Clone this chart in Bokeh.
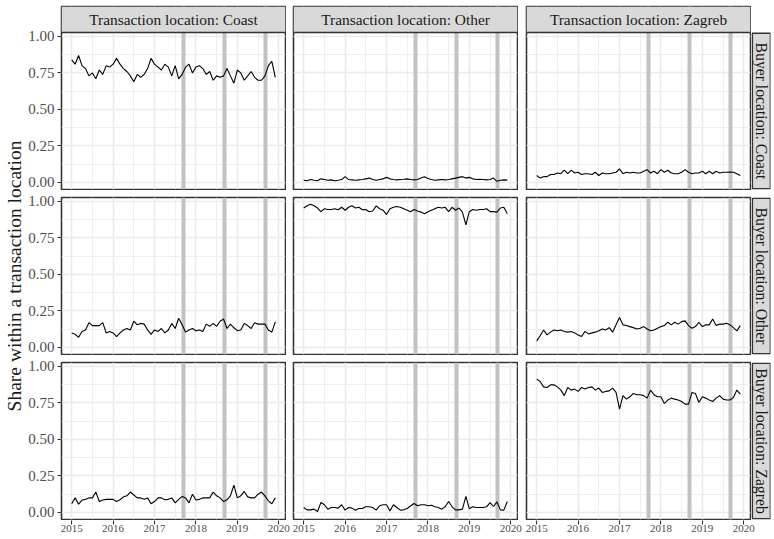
import math
from bokeh.plotting import figure
from bokeh.layouts import row, column
from bokeh.models import FixedTicker, Range1d, PrintfTickFormatter
from bokeh.embed import file_html
from bokeh.resources import INLINE
from bokeh.core.properties import value

FONT = "Liberation Serif"

# ---------------- data ----------------
transaction_locations = ["Coast", "Other", "Zagreb"]
buyer_locations = ["Coast", "Other", "Zagreb"]
months = [2015 + m / 12 for m in range(60)]  # Jan 2015 .. Dec 2019

year_ticks = [2015, 2016, 2017, 2018, 2019, 2020]
year_minor_ticks = [2015.5, 2016.5, 2017.5, 2018.5, 2019.5]
share_ticks = [0.0, 0.25, 0.5, 0.75, 1.0]
share_minor_ticks = [0.125, 0.375, 0.625, 0.875]
band_dates = [2017.71, 2018.69, 2019.69]

# transaction location: Coast
coast_buyers_in_coast = [0.84, 0.81, 0.87, 0.80, 0.78, 0.73, 0.75, 0.71, 0.77, 0.74,
                         0.80, 0.79, 0.81, 0.85, 0.81, 0.78, 0.76, 0.73, 0.69, 0.74,
                         0.72, 0.74, 0.78, 0.85, 0.81, 0.79, 0.77, 0.81, 0.79, 0.73,
                         0.80, 0.71, 0.74, 0.79, 0.81, 0.75, 0.79, 0.80, 0.78, 0.74,
                         0.76, 0.70, 0.73, 0.72, 0.73, 0.78, 0.73, 0.68, 0.77, 0.75,
                         0.70, 0.73, 0.76, 0.72, 0.70, 0.70, 0.73, 0.80, 0.83, 0.72]
other_buyers_in_coast = [0.10, 0.09, 0.07, 0.11, 0.12, 0.17, 0.15, 0.15, 0.15, 0.17,
                         0.10, 0.11, 0.10, 0.075, 0.10, 0.12, 0.13, 0.12, 0.18, 0.155,
                         0.165, 0.16, 0.12, 0.09, 0.12, 0.11, 0.13, 0.10, 0.12, 0.165,
                         0.13, 0.20, 0.155, 0.105, 0.12, 0.13, 0.115, 0.12, 0.11, 0.16,
                         0.145, 0.165, 0.145, 0.18, 0.195, 0.13, 0.16, 0.135, 0.115, 0.12,
                         0.165, 0.15, 0.13, 0.17, 0.16, 0.16, 0.16, 0.12, 0.105, 0.175]
zagreb_buyers_in_coast = [0.06, 0.10, 0.057, 0.085, 0.09, 0.10, 0.10, 0.14, 0.075, 0.085,
                          0.09, 0.09, 0.09, 0.075, 0.087, 0.107, 0.114, 0.14, 0.12, 0.10,
                          0.10, 0.09, 0.10, 0.06, 0.075, 0.10, 0.10, 0.087, 0.09, 0.10,
                          0.066, 0.09, 0.11, 0.10, 0.066, 0.125, 0.085, 0.09, 0.10, 0.10,
                          0.10, 0.14, 0.114, 0.10, 0.075, 0.087, 0.114, 0.187, 0.10, 0.114,
                          0.144, 0.107, 0.10, 0.10, 0.125, 0.14, 0.114, 0.08, 0.06, 0.10]
# transaction location: Other
coast_buyers_in_other = [0.015, 0.012, 0.02, 0.015, 0.012, 0.025, 0.02, 0.015, 0.018, 0.012,
                         0.015, 0.02, 0.04, 0.02, 0.018, 0.015, 0.018, 0.02, 0.025, 0.03,
                         0.02, 0.015, 0.02, 0.025, 0.035, 0.025, 0.02, 0.018, 0.02, 0.022,
                         0.025, 0.02, 0.018, 0.02, 0.03, 0.04, 0.028, 0.02, 0.015, 0.018,
                         0.02, 0.018, 0.02, 0.025, 0.03, 0.035, 0.04, 0.03, 0.035, 0.025,
                         0.02, 0.022, 0.02, 0.018, 0.02, 0.03, 0.008, 0.015, 0.018, 0.016]
other_buyers_in_other = [0.955, 0.97, 0.98, 0.97, 0.955, 0.93, 0.95, 0.945, 0.945, 0.95,
                         0.943, 0.96, 0.94, 0.96, 0.97, 0.955, 0.96, 0.943, 0.945, 0.93,
                         0.935, 0.97, 0.95, 0.94, 0.91, 0.95, 0.96, 0.965, 0.96, 0.95,
                         0.94, 0.93, 0.945, 0.935, 0.927, 0.916, 0.93, 0.94, 0.95, 0.96,
                         0.955, 0.96, 0.93, 0.96, 0.94, 0.955, 0.927, 0.84, 0.93, 0.945,
                         0.94, 0.945, 0.945, 0.95, 0.93, 0.93, 0.927, 0.955, 0.96, 0.916]
zagreb_buyers_in_other = [0.034, 0.018, 0.018, 0.023, 0.007, 0.068, 0.053, 0.023, 0.034, 0.034,
                          0.03, 0.053, 0.016, 0.034, 0.03, 0.016, 0.027, 0.027, 0.039, 0.039,
                          0.034, 0.016, 0.046, 0.053, 0.053, 0.011, 0.053, 0.034, 0.016, 0.018,
                          0.027, 0.046, 0.062, 0.046, 0.053, 0.053, 0.046, 0.05, 0.039, 0.034,
                          0.023, 0.039, 0.075, 0.039, 0.018, 0.018, 0.023, 0.11, 0.025, 0.039,
                          0.034, 0.034, 0.034, 0.039, 0.068, 0.041, 0.073, 0.018, 0.016, 0.075]
# transaction location: Zagreb
coast_buyers_in_zagreb = [0.048, 0.03, 0.04, 0.04, 0.055, 0.055, 0.065, 0.06, 0.085, 0.06,
                          0.085, 0.065, 0.07, 0.055, 0.06, 0.06, 0.055, 0.07, 0.048, 0.065,
                          0.06, 0.06, 0.065, 0.07, 0.093, 0.06, 0.07, 0.065, 0.07, 0.065,
                          0.065, 0.077, 0.088, 0.065, 0.077, 0.06, 0.088, 0.07, 0.084, 0.065,
                          0.06, 0.06, 0.07, 0.088, 0.07, 0.06, 0.065, 0.065, 0.077, 0.06,
                          0.077, 0.06, 0.077, 0.065, 0.07, 0.07, 0.072, 0.07, 0.06, 0.048]
other_buyers_in_zagreb = [0.045, 0.08, 0.12, 0.086, 0.105, 0.12, 0.114, 0.12, 0.11, 0.105,
                          0.11, 0.10, 0.086, 0.075, 0.11, 0.093, 0.10, 0.105, 0.114, 0.127,
                          0.12, 0.136, 0.105, 0.155, 0.205, 0.155, 0.15, 0.143, 0.136, 0.127,
                          0.132, 0.143, 0.127, 0.114, 0.12, 0.132, 0.143, 0.15, 0.173, 0.155,
                          0.173, 0.16, 0.177, 0.182, 0.15, 0.132, 0.143, 0.173, 0.143, 0.155,
                          0.155, 0.195, 0.15, 0.16, 0.16, 0.166, 0.155, 0.136, 0.114, 0.15]
zagreb_buyers_in_zagreb = [0.913, 0.897, 0.86, 0.856, 0.874, 0.874, 0.86, 0.838, 0.80, 0.856,
                           0.838, 0.845, 0.829, 0.856, 0.845, 0.856, 0.86, 0.838, 0.852, 0.822,
                           0.829, 0.833, 0.852, 0.822, 0.708, 0.80, 0.776, 0.792, 0.815, 0.806,
                           0.806, 0.80, 0.783, 0.838, 0.806, 0.792, 0.792, 0.747, 0.77, 0.783,
                           0.776, 0.77, 0.76, 0.742, 0.742, 0.822, 0.815, 0.753, 0.792, 0.783,
                           0.77, 0.76, 0.783, 0.80, 0.776, 0.77, 0.77, 0.788, 0.838, 0.81]

shares = {
    ("Coast", "Coast"): coast_buyers_in_coast,
    ("Other", "Coast"): other_buyers_in_coast,
    ("Zagreb", "Coast"): zagreb_buyers_in_coast,
    ("Coast", "Other"): coast_buyers_in_other,
    ("Other", "Other"): other_buyers_in_other,
    ("Zagreb", "Other"): zagreb_buyers_in_other,
    ("Coast", "Zagreb"): coast_buyers_in_zagreb,
    ("Other", "Zagreb"): other_buyers_in_zagreb,
    ("Zagreb", "Zagreb"): zagreb_buyers_in_zagreb,
}

y_title = "Share within a transaction location"

# ---------------- layout constants ----------------
FW, FH = 224, 157
LB = [36, 7, 8]
STRIP_H = 26
RS_W = 19
TITLE_W = 25
ROW_TOP = [6, 7, 7]
AX_L = [36, 2, 3]
AX_R = [6, 6, 6]
AX_BOTTOM = 16
X_RANGE = (2014.754, 2020.163)
Y_RANGE = (-0.048, 1.027)
STRIP_FILL = "#d9d9d9"
DARK = "#333333"
GRID = "#ebebeb"
PER_PX = (Y_RANGE[1] - Y_RANGE[0]) / FH


def base_fig(**kw):
    return figure(toolbar_location=None, output_backend="svg", **kw)


def panel(r, c):
    strip = STRIP_H if r == 0 else 0
    y_top = Y_RANGE[1] + strip * PER_PX
    p = base_fig(frame_width=FW, frame_height=FH + strip,
                 min_border_left=LB[c], min_border_right=1,
                 min_border_top=ROW_TOP[r], min_border_bottom=1,
                 x_range=Range1d(*X_RANGE), y_range=Range1d(Y_RANGE[0], y_top),
                 background_fill_color="white", border_fill_color="white",
                 outline_line_color=DARK, outline_line_width=1.6)
    xt = FixedTicker(ticks=year_ticks, minor_ticks=year_minor_ticks)
    yt = FixedTicker(ticks=share_ticks, minor_ticks=share_minor_ticks)
    p.xaxis.ticker = xt
    p.yaxis.ticker = yt
    p.xgrid.ticker = xt
    p.ygrid.ticker = yt
    for g in (p.xgrid, p.ygrid):
        g.grid_line_color = GRID
        g.grid_line_width = 1.6
        g.minor_grid_line_color = GRID
        g.minor_grid_line_width = 0.8
    ax = p.yaxis[0]
    ax.axis_line_color = None
    ax.major_tick_line_color = DARK
    ax.major_tick_in = 0
    ax.major_tick_out = 4
    ax.major_tick_line_width = 1.1
    ax.minor_tick_line_color = None
    ax.major_label_text_font = FONT
    ax.major_label_text_color = "#4d4d4d"
    ax.major_label_text_font_size = "15px"
    ax.major_label_standoff = 3
    ax.formatter = PrintfTickFormatter(format="%.2f")
    p.xaxis.visible = False
    if c != 0:
        p.yaxis.visible = False
    p.vspan(x=band_dates, line_color="#c2c2c2", line_width=4)
    ys = shares[(buyer_locations[r], transaction_locations[c])]
    p.line(months, ys, line_color="black", line_width=1.1)
    if r == 0:
        p.quad(left=[X_RANGE[0]], right=[X_RANGE[1]], bottom=[Y_RANGE[1]], top=[y_top],
               fill_color=STRIP_FILL, line_color=None)
        p.hspan(y=[Y_RANGE[1]], line_color=DARK, line_width=1.6)
        p.text(x=[(X_RANGE[0] + X_RANGE[1]) / 2], y=[(Y_RANGE[1] + y_top) / 2],
               text=["Transaction location: " + transaction_locations[c]],
               text_align="center", text_baseline="middle",
               text_font=value(FONT), text_font_size="15.4px", text_color="#1a1a1a")
    return p


def right_strip(r):
    strip = STRIP_H if r == 0 else 0
    h = FH + strip
    s = base_fig(frame_width=RS_W, frame_height=h,
                 min_border_left=0, min_border_right=1,
                 min_border_top=ROW_TOP[r], min_border_bottom=1,
                 x_range=Range1d(0, RS_W), y_range=Range1d(0, h),
                 x_axis_location=None, y_axis_location=None,
                 background_fill_color="white", border_fill_color="white",
                 outline_line_color=None)
    s.grid.visible = False
    s.quad(left=[0.8], right=[RS_W], bottom=[0.8], top=[FH - 0.8],
           fill_color=STRIP_FILL, line_color=DARK, line_width=1.6)
    s.text(x=[RS_W / 2], y=[FH / 2], text=["Buyer location: " + buyer_locations[r]],
           angle=-math.pi / 2, text_align="center", text_baseline="middle",
           text_font=value(FONT), text_font_size="15.7px", text_color="#1a1a1a")
    return s


def x_axis_fig(c):
    a = base_fig(frame_width=FW, frame_height=1,
                 min_border_left=AX_L[c], min_border_right=AX_R[c],
                 min_border_top=0, min_border_bottom=AX_BOTTOM,
                 x_range=Range1d(*X_RANGE), y_range=Range1d(0, 1),
                 y_axis_location=None,
                 background_fill_color="white", border_fill_color="white",
                 outline_line_color=None)
    a.grid.visible = False
    ax = a.xaxis[0]
    ax.ticker = FixedTicker(ticks=year_ticks)
    ax.formatter = PrintfTickFormatter(format="%d")
    ax.axis_line_color = None
    ax.major_tick_line_color = DARK
    ax.major_tick_in = 1
    ax.major_tick_out = 3
    ax.major_tick_line_width = 1.1
    ax.minor_tick_line_color = None
    ax.major_label_text_font = FONT
    ax.major_label_text_color = "#4d4d4d"
    ax.major_label_text_font_size = "11px"
    ax.major_label_standoff = 0
    return a


rows = []
for r in range(3):
    rows.append(row([panel(r, c) for c in range(3)] + [right_strip(r)]))
rows.append(row([x_axis_fig(c) for c in range(3)]))

grid_col = column(rows)

TOTAL_H = (ROW_TOP[0] + STRIP_H + FH + 1) + (ROW_TOP[1] + FH + 1) + (ROW_TOP[2] + FH + 1) + (1 + AX_BOTTOM)
panel_top = ROW_TOP[0] + STRIP_H
panel_bottom = TOTAL_H - (1 + AX_BOTTOM) - 1
panel_center = (panel_top + panel_bottom) / 2

t = base_fig(frame_width=TITLE_W, frame_height=TOTAL_H, min_border=0,
             x_range=Range1d(0, TITLE_W), y_range=Range1d(0, TOTAL_H),
             x_axis_location=None, y_axis_location=None,
             outline_line_color=None, background_fill_color="white",
             border_fill_color="white")
t.grid.visible = False
t.text(x=[14], y=[TOTAL_H - panel_center], text=[y_title], angle=math.pi / 2,
       text_align="center", text_baseline="middle",
       text_font=value(FONT), text_font_size="19.5px", text_color="#1a1a1a")

layout = row([t, grid_col])

open("out.html", "w").write(file_html(layout, INLINE))
